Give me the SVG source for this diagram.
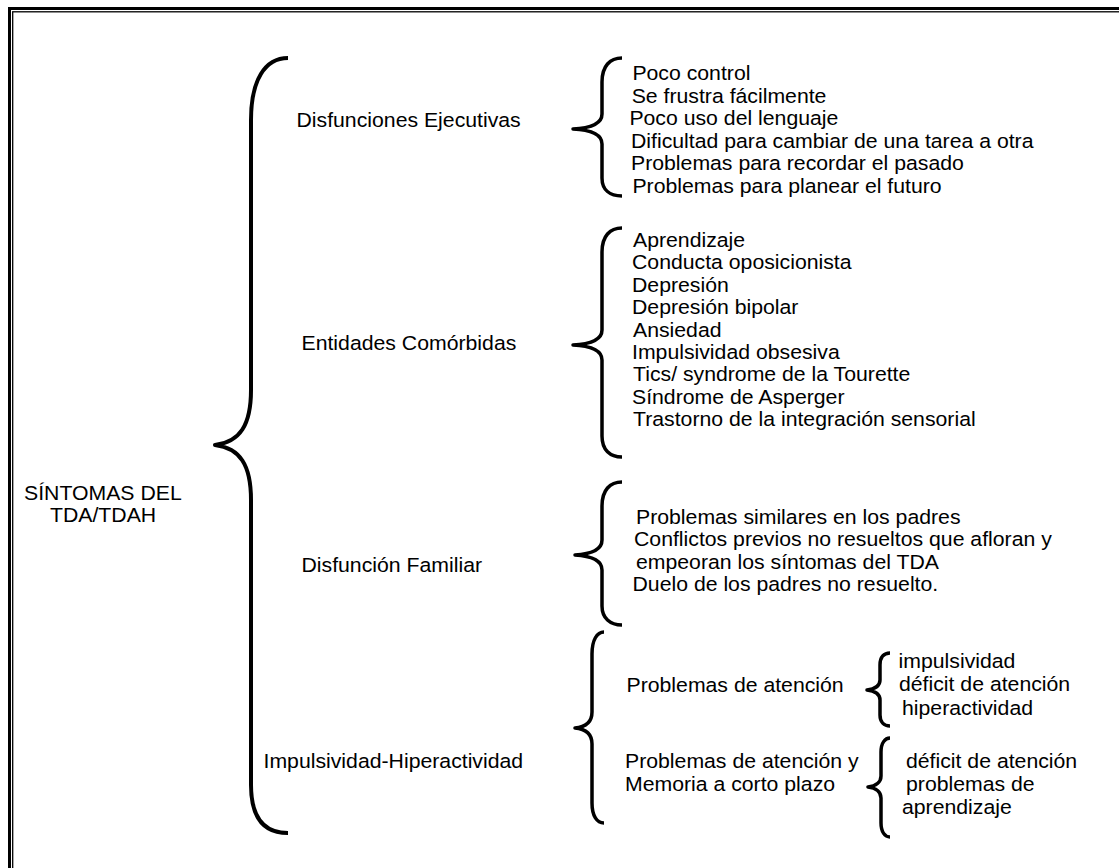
<svg xmlns="http://www.w3.org/2000/svg" width="1119" height="868" viewBox="0 0 1119 868">
<style>
text{font-family:"Liberation Sans",Arial,Helvetica,sans-serif;font-size:19.5px;fill:#000}
.br{fill:none;stroke:#000;stroke-width:3.5;stroke-linecap:butt;stroke-linejoin:round}
.big{stroke-width:4}
.frame{fill:none;stroke:#000}
</style>
<rect width="1119" height="868" fill="#fff"/>
<g id="frame">
<rect class="frame" x="9.5" y="8.5" width="1200" height="1000" stroke-width="3"/>
<rect class="frame" x="12.7" y="11.8" width="1200" height="1000" stroke-width="1.3"/>
</g>
<g id="connectors">
<path class="br big" d="M288,58 C265,58 251,80 251,120 L251,390 C251,425 240,442 215,445 C240,448 251,465 251,500 L251,785 C251,815 262,833 288,833"/>
<path class="br" d="M622,58 C610,58 602,66 602,82 L602,114 C602,123 592,128 573,129 C592,130 602,135 602,144 L602,178 C602,190 610,196 622,196"/>
<path class="br" d="M622,228 C610,228 602,236 602,252 L602,330 C602,339 592,344 573,345 C592,346 602,351 602,360 L602,436 C602,450 610,457 622,457"/>
<path class="br" d="M622,482 C610,482 602,490 602,506 L602,540 C602,549 592,554 575,555 C592,556 602,561 602,570 L602,606 C602,618 610,625 622,625"/>
<path class="br" d="M604,632 C597,632 592,640 592,654 L592,712 C592,722 586,727 575,728 C586,729 592,734 592,744 L592,803 C592,816 597,823 604,823"/>
<path class="br" d="M890,653 C884,653 880,657 880,665 L880,680 C880,686 875,689 867,690 C875,691 880,694 880,700 L880,715 C880,722 884,726 890,726"/>
<path class="br" d="M890,738 C885,738 881,743 881,752 L881,776 C881,782 876,786 868,787 C876,788 881,792 881,798 L881,823 C881,832 885,837 890,837"/>
</g>
<g id="root">
<text transform="translate(24 0) scale(1.09 1)" y="500">SÍNTOMAS DEL</text>
<text transform="translate(50 0) scale(1.09 1)" y="522">TDA/TDAH</text>
</g>
<g id="disfunciones-ejecutivas">
<text transform="translate(296.5 0) scale(1.09 1)" y="127">Disfunciones Ejecutivas</text>
<text transform="translate(632.4 0) scale(1.09 1)" y="80.5">Poco control</text>
<text transform="translate(631.7 0) scale(1.09 1)" y="103">Se frustra fácilmente</text>
<text transform="translate(629.4 0) scale(1.09 1)" y="125.5">Poco uso del lenguaje</text>
<text transform="translate(631 0) scale(1.09 1)" y="148">Dificultad para cambiar de una tarea a otra</text>
<text transform="translate(631 0) scale(1.09 1)" y="170.5">Problemas para recordar el pasado</text>
<text transform="translate(632.4 0) scale(1.09 1)" y="193">Problemas para planear el futuro</text>
</g>
<g id="entidades-comorbidas">
<text transform="translate(301.5 0) scale(1.09 1)" y="350">Entidades Comórbidas</text>
<text transform="translate(633 0) scale(1.09 1)" y="247">Aprendizaje</text>
<text transform="translate(632 0) scale(1.09 1)" y="269.4">Conducta oposicionista</text>
<text transform="translate(632 0) scale(1.09 1)" y="291.8">Depresión</text>
<text transform="translate(632 0) scale(1.09 1)" y="314.2">Depresión bipolar</text>
<text transform="translate(633 0) scale(1.09 1)" y="336.6">Ansiedad</text>
<text transform="translate(632 0) scale(1.09 1)" y="359">Impulsividad obsesiva</text>
<text transform="translate(633 0) scale(1.09 1)" y="381.4">Tics/ syndrome de la Tourette</text>
<text transform="translate(632 0) scale(1.09 1)" y="403.8">Síndrome de Asperger</text>
<text transform="translate(633 0) scale(1.09 1)" y="426.2">Trastorno de la integración sensorial</text>
</g>
<g id="disfuncion-familiar">
<text transform="translate(301.5 0) scale(1.09 1)" y="572">Disfunción Familiar</text>
<text transform="translate(636 0) scale(1.09 1)" y="524">Problemas similares en los padres</text>
<text transform="translate(634 0) scale(1.09 1)" y="546.4">Conflictos previos no resueltos que afloran y</text>
<text transform="translate(636 0) scale(1.09 1)" y="568.8">empeoran los síntomas del TDA</text>
<text transform="translate(632.5 0) scale(1.09 1)" y="591.2">Duelo de los padres no resuelto.</text>
</g>
<g id="impulsividad-hiperactividad">
<text transform="translate(263.5 0) scale(1.09 1)" y="768">Impulsividad-Hiperactividad</text>
</g>
<g id="problemas-atencion">
<text transform="translate(626.5 0) scale(1.09 1)" y="692">Problemas de atención</text>
<text transform="translate(898.6 0) scale(1.09 1)" y="668">impulsividad</text>
<text transform="translate(899 0) scale(1.09 1)" y="691.5">déficit de atención</text>
<text transform="translate(902 0) scale(1.09 1)" y="715">hiperactividad</text>
</g>
<g id="problemas-atencion-memoria">
<text transform="translate(625 0) scale(1.09 1)" y="768">Problemas de atención y</text>
<text transform="translate(625 0) scale(1.09 1)" y="791">Memoria a corto plazo</text>
<text transform="translate(906 0) scale(1.09 1)" y="768">déficit de atención</text>
<text transform="translate(906 0) scale(1.09 1)" y="791">problemas de</text>
<text transform="translate(902 0) scale(1.09 1)" y="814">aprendizaje</text>
</g>
</svg>
